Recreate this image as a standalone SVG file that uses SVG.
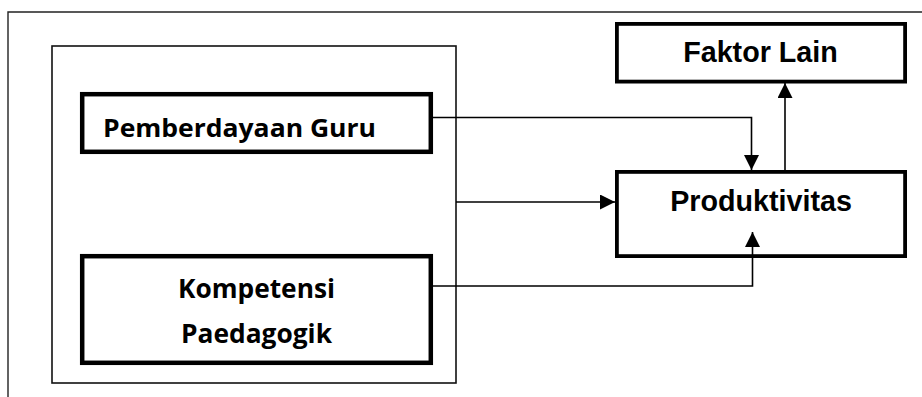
<svg xmlns="http://www.w3.org/2000/svg" width="922" height="397" viewBox="0 0 922 397">
<style>
.frame{fill:none;stroke:#222;stroke-width:1.4}
.thin{fill:#fff;stroke:#111;stroke-width:1.6}
.thick{fill:#fff;stroke:#000;stroke-width:4.5}
.mid{fill:#fff;stroke:#000;stroke-width:3.8}
.conn{fill:none;stroke:#000;stroke-width:1.6}
.cal{font-family:"Open Sans","Noto Sans","Liberation Sans",sans-serif;font-weight:bold;fill:#000}
.ari{font-family:"Liberation Sans",Arial,sans-serif;font-weight:bold;fill:#000;font-size:28.7px;text-anchor:middle}
</style>
<defs>
<marker id="ah" viewBox="0 0 16 16" refX="16" refY="8" markerWidth="16" markerHeight="15" markerUnits="userSpaceOnUse" orient="auto">
<path d="M0,0 L16,8 L0,16 Z" fill="#000"/>
</marker>
</defs>
<path class="frame" d="M8,397 V12 H922"/>
<g id="group-box">
<rect class="thin" x="52" y="46" width="404" height="337"/>
</g>
<g id="pemberdayaan">
<rect class="thick" x="82.2" y="94.2" width="348.6" height="57.6"/>
<text class="cal" x="103" y="137" font-size="24.5" textLength="273" lengthAdjust="spacingAndGlyphs">Pemberdayaan Guru</text>
</g>
<g id="kompetensi">
<rect class="thick" x="82.2" y="256.2" width="348.6" height="106.6"/>
<text class="cal" x="178" y="298" font-size="27" textLength="157" lengthAdjust="spacingAndGlyphs">Kompetensi</text>
<text class="cal" x="181" y="343" font-size="27" textLength="151" lengthAdjust="spacingAndGlyphs">Paedagogik</text>
</g>
<g id="faktor-lain">
<rect class="mid" x="616.9" y="23.9" width="288.2" height="57.7"/>
<text class="ari" x="760.5" y="62">Faktor Lain</text>
</g>
<g id="produktivitas">
<rect class="mid" x="616.9" y="171.9" width="288.2" height="84.2"/>
<text class="ari" x="761" y="211">Produktivitas</text>
</g>
<g id="connectors">
<path class="conn" d="M433,117.5 H751.5 V170" marker-end="url(#ah)"/>
<path class="conn" d="M785,170 V83" marker-end="url(#ah)"/>
<path class="conn" d="M456,202 H615" marker-end="url(#ah)"/>
<path class="conn" d="M433,286 H752.5 V232" marker-end="url(#ah)"/>
</g>
</svg>
